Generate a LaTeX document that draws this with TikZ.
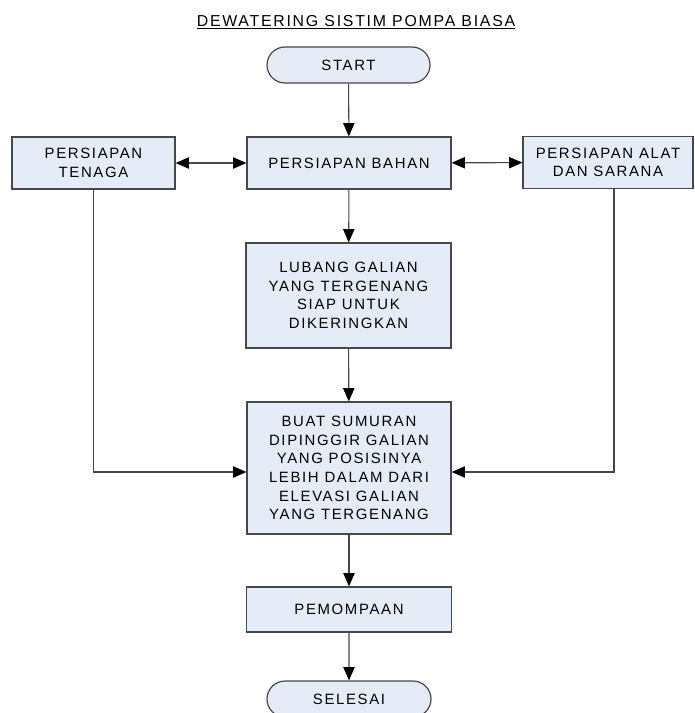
\documentclass[tikz,border=0pt]{standalone}
\usepackage{fontspec}
\setmainfont{Liberation Sans}
\newfontfamily\spacedsans[LetterSpace=11]{Liberation Sans}
\usetikzlibrary{shapes.misc,arrows.meta}
\definecolor{boxfill}{RGB}{230,236,247}
\definecolor{boxline}{RGB}{72,72,72}
\definecolor{wire}{RGB}{70,70,70}
\begin{document}
\begin{tikzpicture}[x=0.75pt,y=-0.75pt,
  every node/.style={font={\spacedsans\fontsize{11.2}{14}\selectfont},align=center,inner sep=0pt},
  heading/.style={font={\spacedsans\fontsize{11.9}{14}\selectfont}},
  procbox/.style={draw=boxline,line width=0.9pt,fill=boxfill,rectangle},
  termbox/.style={draw=boxline,line width=0.9pt,fill=boxfill,rounded rectangle,
    minimum height=27pt},
  flow/.style={draw=wire,line width=0.8pt,-{Triangle[length=10pt,width=8.5pt,color=black]}},
  twoway/.style={draw=wire,line width=0.8pt,{Triangle[length=10pt,width=8.5pt,color=black]}-{Triangle[length=10pt,width=8.5pt,color=black]}}]
  \useasboundingbox (0,0) rectangle (694,713);

  % heading
  \node[heading] (title) at (356,22.5) {\underline{DEWATERING SISTIM POMPA BIASA}};

  % terminals
  \node[termbox,minimum width=122.25pt] (start) at (348.5,65) {START};
  \node[termbox,minimum width=123pt] (selesai) at (349,699) {SELESAI};

  % process steps
  \node[procbox,minimum width=153pt,minimum height=39pt] (bahan) at (349,163) {PERSIAPAN BAHAN};
  \node[procbox,minimum width=122.25pt,minimum height=39pt] (tenaga) at (93.5,163) {PERSIAPAN\\TENAGA};
  \node[procbox,minimum width=127.5pt,minimum height=39pt] (alat) at (608,162.5) {PERSIAPAN ALAT\\DAN SARANA};
  \node[procbox,minimum width=153.75pt,minimum height=78.75pt] (lubang) at (348.5,295.5)
    {LUBANG GALIAN\\YANG TERGENANG\\SIAP UNTUK\\DIKERINGKAN};
  \node[procbox,minimum width=153pt,minimum height=99pt] (buat) at (349,468)
    {BUAT SUMURAN\\DIPINGGIR GALIAN\\YANG POSISINYA\\LEBIH DALAM DARI\\ELEVASI GALIAN\\YANG TERGENANG};
  \node[procbox,minimum width=153.75pt,minimum height=33.75pt] (pompa) at (349,609.5) {PEMOMPAAN};

  % main flow
  \draw[flow] (start) -- (bahan);
  \draw[flow] (bahan) -- (lubang);
  \draw[flow] (lubang) -- (buat);
  \draw[flow] (buat) -- (pompa);
  \draw[flow] (pompa) -- (selesai);

  % links between the preparation steps
  \draw[twoway] (tenaga) -- (bahan);
  \draw[twoway] (bahan) -- (alat);

  % side feeds into the well step
  \coordinate (lin) at ([yshift=-3pt]buat.west);
  \coordinate (rin) at ([yshift=-3pt]buat.east);
  \coordinate (rdrop) at ([xshift=4.5pt]alat.south);
  \draw[flow] (tenaga.south) |- (lin);
  \draw[flow] (rdrop) |- (rin);
\end{tikzpicture}
\end{document}
